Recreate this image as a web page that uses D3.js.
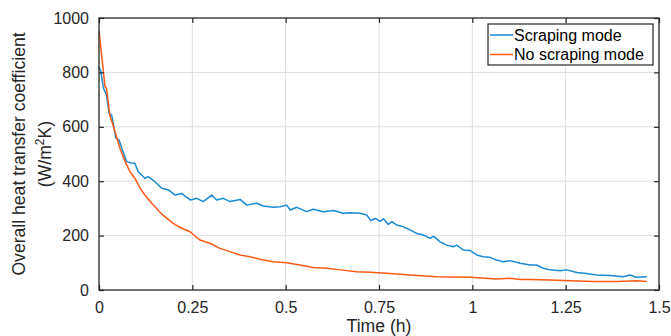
<!DOCTYPE html>
<html>
<head>
<meta charset="utf-8">
<script src="https://cdn.jsdelivr.net/npm/d3@7"></script>
<style>
body { margin: 0; background: #fff; }
svg { display: block; font-family: "Liberation Sans", Arial, sans-serif; }
</style>
</head>
<body>
<div id="chart"></div>
<script>
//data
var timeScraping = [0, 0.005, 0.012, 0.02, 0.027, 0.034, 0.045, 0.054, 0.061, 0.074, 0.087, 0.096, 0.105, 0.123, 0.132, 0.15, 0.168, 0.186, 0.204, 0.221, 0.244, 0.262, 0.279, 0.302, 0.315, 0.333, 0.351, 0.378, 0.396, 0.422, 0.44, 0.467, 0.485, 0.503, 0.512, 0.53, 0.556, 0.574, 0.601, 0.628, 0.654, 0.672, 0.699, 0.717, 0.728, 0.74, 0.753, 0.762, 0.775, 0.784, 0.797, 0.815, 0.833, 0.851, 0.869, 0.887, 0.896, 0.913, 0.931, 0.949, 0.958, 0.976, 0.994, 1.012, 1.029, 1.047, 1.065, 1.083, 1.101, 1.128, 1.155, 1.172, 1.19, 1.208, 1.235, 1.253, 1.28, 1.306, 1.333, 1.369, 1.404, 1.422, 1.44, 1.467];
var uScraping = [821, 803, 742, 717, 650, 643, 559, 551, 521, 472, 467, 466, 435, 411, 417, 398, 374, 368, 349, 355, 331, 337, 325, 349, 331, 337, 325, 333, 312, 319, 309, 304, 306, 312, 294, 304, 288, 297, 288, 292, 282, 284, 282, 276, 255, 263, 252, 262, 241, 251, 239, 233, 221, 208, 202, 190, 198, 178, 165, 159, 165, 147, 145, 129, 122, 120, 110, 104, 108, 98, 92, 92, 80, 74, 71, 74, 64, 61, 55, 53, 49, 55, 47, 49];

var timeNoScraping = [0, 0.009, 0.016, 0.02, 0.029, 0.043, 0.056, 0.07, 0.083, 0.096, 0.11, 0.123, 0.141, 0.168, 0.199, 0.22, 0.244, 0.27, 0.297, 0.324, 0.351, 0.378, 0.404, 0.431, 0.467, 0.503, 0.538, 0.574, 0.61, 0.646, 0.69, 0.726, 0.78, 0.833, 0.904, 0.994, 1.065, 1.101, 1.128, 1.155, 1.208, 1.262, 1.324, 1.387, 1.44, 1.467];
var uNoScraping = [952, 839, 747, 742, 643, 582, 521, 472, 435, 411, 375, 349, 319, 279, 245, 228, 214, 184, 172, 153, 141, 129, 122, 113, 104, 100, 92, 83, 80, 74, 67, 65, 61, 55, 49, 47, 40, 43, 39, 39, 37, 34, 31, 31, 34, 31];

var xTicks = [0, 0.25, 0.5, 0.75, 1, 1.25, 1.5];
var xTickLabels = ["0", "0.25", "0.5", "0.75", "1", "1.25", "1.5"];
var yTicks = [0, 200, 400, 600, 800, 1000];
var seriesNames = ["Scraping mode", "No scraping mode"];
var seriesColors = ["#1a8ad4", "#ff5a14"];

var W = 671, H = 336;
var margin = {left: 99, right: 12, top: 18, bottom: 46};
var plotW = W - margin.left - margin.right;
var plotH = H - margin.top - margin.bottom;
var axisColor = "#262626";

var svg = d3.select("#chart").append("svg")
    .attr("width", W)
    .attr("height", H);

var g = svg.append("g")
    .attr("transform", "translate(" + margin.left + "," + margin.top + ")");

var xScale = d3.scaleLinear().domain([0, 1.5]).range([0, plotW]);
var yScale = d3.scaleLinear().domain([0, 1000]).range([plotH, 0]);

//grid
g.append("g").selectAll("line")
  .data(xTicks.slice(1, -1))
  .enter().append("line")
    .attr("x1", function(d){ return xScale(d); })
    .attr("x2", function(d){ return xScale(d); })
    .attr("y1", 0).attr("y2", plotH)
    .attr("stroke", "#dedede").attr("stroke-width", 1);

g.append("g").selectAll("line")
  .data(yTicks.slice(1, -1))
  .enter().append("line")
    .attr("y1", function(d){ return yScale(d); })
    .attr("y2", function(d){ return yScale(d); })
    .attr("x1", 0).attr("x2", plotW)
    .attr("stroke", "#dedede").attr("stroke-width", 1);

//lines
var line = d3.line()
    .x(function(d){ return xScale(d[0]); })
    .y(function(d){ return yScale(d[1]); });

var series = [
  d3.zip(timeScraping, uScraping),
  d3.zip(timeNoScraping, uNoScraping)
];

g.selectAll(".series")
  .data(series)
  .enter().append("path")
    .attr("class", "series")
    .attr("d", line)
    .attr("fill", "none")
    .attr("stroke", function(d, i){ return seriesColors[i]; })
    .attr("stroke-width", 1.5)
    .attr("stroke-linejoin", "round");

//axes, ticks pointing inward, box on
function styleAxis(sel){
  sel.select(".domain").remove();
  sel.selectAll("line").attr("stroke", axisColor).attr("stroke-width", 1.2);
  sel.selectAll("text").attr("fill", axisColor).style("font-size", "16px");
}

g.append("g")
  .attr("transform", "translate(0," + plotH + ")")
  .call(d3.axisBottom(xScale).tickValues(xTicks)
        .tickFormat(function(d, i){ return xTickLabels[i]; })
        .tickSizeInner(-5).tickSizeOuter(0).tickPadding(12))
  .call(styleAxis);

g.append("g")
  .call(d3.axisTop(xScale).tickValues(xTicks).tickFormat("")
        .tickSizeInner(-5).tickSizeOuter(0))
  .call(styleAxis);

g.append("g")
  .call(d3.axisLeft(yScale).tickValues(yTicks).tickFormat(d3.format("d"))
        .tickSizeInner(-5).tickSizeOuter(0).tickPadding(10))
  .call(styleAxis);

g.append("g")
  .attr("transform", "translate(" + plotW + ",0)")
  .call(d3.axisRight(yScale).tickValues(yTicks).tickFormat("")
        .tickSizeInner(-5).tickSizeOuter(0))
  .call(styleAxis);

g.append("rect")
  .attr("width", plotW).attr("height", plotH)
  .attr("fill", "none")
  .attr("stroke", axisColor).attr("stroke-width", 1.3);

//axis labels
svg.append("text")
  .attr("x", margin.left + plotW / 2)
  .attr("y", 332)
  .attr("text-anchor", "middle")
  .attr("fill", axisColor)
  .style("font-size", "17.6px")
  .text("Time (h)");

var yLab = svg.append("text")
  .attr("transform", "translate(25," + (margin.top + plotH / 2) + ") rotate(-90)")
  .attr("text-anchor", "middle")
  .attr("fill", axisColor)
  .style("font-size", "17.6px");

yLab.append("tspan").attr("x", 0).attr("y", 0).text("Overall heat transfer coefficient");
var l2 = yLab.append("tspan").attr("x", 0).attr("y", 26);
l2.append("tspan").text("(W/m");
l2.append("tspan").attr("dy", -7).style("font-size", "12px").text("2");
l2.append("tspan").attr("dy", 7).text("K)");

//legend
var legend = svg.append("g").attr("transform", "translate(488,24)");
legend.append("rect")
  .attr("width", 165).attr("height", 41)
  .attr("fill", "#fff")
  .attr("stroke", axisColor).attr("stroke-width", 1.2);

var items = legend.selectAll(".item")
  .data(seriesNames)
  .enter().append("g")
    .attr("transform", function(d, i){ return "translate(0," + (11 + i * 19.5) + ")"; });

items.append("line")
  .attr("x1", 2).attr("x2", 25)
  .attr("stroke", function(d, i){ return seriesColors[i]; })
  .attr("stroke-width", 1.5);

items.append("text")
  .attr("x", 26).attr("y", 5.5)
  .attr("fill", "#000")
  .style("font-size", "16px")
  .text(function(d){ return d; });
</script>
</body>
</html>
